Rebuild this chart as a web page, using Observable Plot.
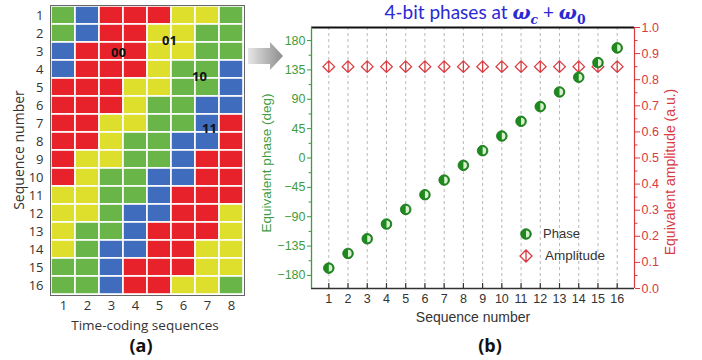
<!DOCTYPE html>
<html>
<head>
<meta charset="utf-8">
<script src="https://cdn.jsdelivr.net/npm/d3@7"></script>
<script src="https://cdn.jsdelivr.net/npm/@observablehq/plot@0.6"></script>
<style>
  body { margin: 0; background: #fff; }
  #fig { position: relative; width: 702px; height: 360px; overflow: hidden; background: #fff; }
  #fig svg { position: absolute; top: 0; }
  .t { position: absolute; white-space: nowrap; line-height: 1; }
</style>
</head>
<body>
<div id="fig"></div>
<script>
// ---- (a) time-coding matrix ----
const columns = [1, 2, 3, 4, 5, 6, 7, 8];
const rows = [1, 2, 3, 4, 5, 6, 7, 8, 9, 10, 11, 12, 13, 14, 15, 16];
const codes = ["00", "01", "10", "11"];
const codeColors = ["#e8222b", "#dede2c", "#6ab548", "#3f6cbd"];
const codeRows = [
  "10 11 00 00 00 01 01 10",
  "10 11 00 00 01 01 10 10",
  "11 00 00 00 01 01 10 10",
  "11 00 00 00 01 10 10 11",
  "00 00 00 01 01 10 10 11",
  "00 00 00 01 10 10 11 11",
  "00 00 01 01 10 10 11 00",
  "00 00 01 10 10 11 11 00",
  "00 01 01 10 10 11 00 00",
  "00 01 10 10 11 11 00 00",
  "01 01 10 10 11 00 00 00",
  "01 01 10 11 11 00 00 01",
  "01 10 10 11 00 00 00 01",
  "01 10 11 11 00 00 01 01",
  "10 10 11 00 00 00 01 01",
  "10 10 11 00 00 01 01 10"
];

// ---- (b) equivalent phase / amplitude ----
const seq = [1, 2, 3, 4, 5, 6, 7, 8, 9, 10, 11, 12, 13, 14, 15, 16];
const phase = [-168.75, -146.25, -123.75, -101.25, -78.75, -56.25, -33.75, -11.25,
               11.25, 33.75, 56.25, 78.75, 101.25, 123.75, 146.25, 168.75];
const amplitude = [0.85, 0.85, 0.85, 0.85, 0.85, 0.85, 0.85, 0.85,
                   0.85, 0.85, 0.85, 0.85, 0.85, 0.85, 0.85, 0.85];
const phaseTicks = [-180, -135, -90, -45, 0, 45, 90, 135, 180];
const phaseMinor = [-157.5, -112.5, -67.5, -22.5, 22.5, 67.5, 112.5, 157.5];
const ampTicks = [0, 0.1, 0.2, 0.3, 0.4, 0.5, 0.6, 0.7, 0.8, 0.9, 1.0];
const ampMinor = [0.05, 0.15, 0.25, 0.35, 0.45, 0.55, 0.65, 0.75, 0.85, 0.95];

const fig = document.getElementById("fig");
const GREEN = "#3f9b3f", DOT = "#1d8a1d", RED = "#d83a3f", INK = "#333";

// cells of the matrix
const cells = [];
codeRows.forEach((line, i) => line.split(" ").forEach((c, j) =>
  cells.push({row: rows[i], col: columns[j], code: c})));

const matrix = Plot.plot({
  width: 250, height: 360,
  marginLeft: 50, marginRight: 6, marginTop: 5, marginBottom: 65,
  style: {fontFamily: "'Open Sans', sans-serif", fontSize: "13px", color: INK, background: "transparent"},
  x: {type: "band", domain: columns, padding: 0},
  y: {type: "band", domain: rows, padding: 0},
  color: {type: "ordinal", domain: codes, range: codeColors},
  marks: [
    Plot.cell(cells, {x: "col", y: "row", fill: "code", stroke: "white", strokeWidth: 1.6}),
    Plot.frame({stroke: "#666", strokeWidth: 1}),
    Plot.axisX({tickSize: 0, tickPadding: 5, label: null}),
    Plot.axisY({tickSize: 0, tickPadding: 7, label: null}),
    Plot.text([{col: 3, row: 3, t: codes[0]}], {x: "col", y: "row", text: "t", dx: 7, dy: 1, fontWeight: "bold", fontSize: 13, fill: "#111"}),
    Plot.text([{col: 5, row: 2, t: codes[1]}], {x: "col", y: "row", text: "t", dx: 10, dy: 7, fontWeight: "bold", fontSize: 13, fill: "#111"}),
    Plot.text([{col: 7, row: 4, t: codes[2]}], {x: "col", y: "row", text: "t", dx: -8, dy: 7, fontWeight: "bold", fontSize: 13, fill: "#111"}),
    Plot.text([{col: 7, row: 7, t: codes[3]}], {x: "col", y: "row", text: "t", dx: 2, dy: 5, fontWeight: "bold", fontSize: 13, fill: "#111"})
  ]
});
matrix.style.left = "0px";
fig.appendChild(matrix);

// custom marker shapes
const halfRight = {draw(ctx, size) {
  const r = Math.sqrt(size / Math.PI);
  ctx.moveTo(0, -r); ctx.arc(0, 0, r, -Math.PI / 2, Math.PI / 2); ctx.closePath();
}};
const phiDiamond = {draw(ctx, size) {
  const r = Math.sqrt(size / Math.PI);
  ctx.moveTo(0, -r); ctx.lineTo(r, 0); ctx.lineTo(0, r); ctx.lineTo(-r, 0); ctx.closePath();
  ctx.moveTo(0, -r); ctx.lineTo(0, r);
}};

const W = 452, H = 360, ML = 61, MR = 68, MT = 27, MB = 72;
const xDomain = [0.1, 16.9];
const ampRows = seq.map((s, i) => ({seq: s, amp: amplitude[i]}));
const phaseRows = seq.map((s, i) => ({seq: s, phase: phase[i]}));
const frameH = H - MT - MB;

// amplitude layer (bottom): grid, frame lines, right axis, diamonds
const ampPlot = Plot.plot({
  width: W, height: H, marginLeft: ML, marginRight: MR, marginTop: MT, marginBottom: MB,
  style: {fontFamily: "'Liberation Sans', Arial, sans-serif", fontSize: "12.5px", color: INK, background: "transparent"},
  x: {domain: xDomain},
  y: {domain: [0, 1]},
  marks: [
    Plot.gridX(seq, {stroke: "#8a8a8a", strokeOpacity: 0.6, strokeDasharray: "3,3"}),
    Plot.ruleY([1], {stroke: "#111", strokeWidth: 2}),
    Plot.ruleY([0], {stroke: "#333", strokeWidth: 1.5}),
    Plot.ruleX(seq, {stroke: "#333", strokeWidth: 1.2, insetTop: frameH - 5}),
    Plot.axisX({ticks: seq, tickSize: 0, tickPadding: 6, tickFormat: d => String(d), label: null}),
    Plot.ruleX([xDomain[1]], {stroke: RED, strokeWidth: 1.2}),
    Plot.axisY({anchor: "right", ticks: ampTicks, tickSize: 5, tickPadding: 2, tickFormat: d3.format(".1f"), color: RED, label: null}),
    Plot.axisY({anchor: "right", ticks: ampMinor, tickSize: 2.5, tickFormat: () => "", color: RED, label: null}),
    Plot.dot(ampRows, {x: "seq", y: "amp", symbol: phiDiamond, r: 5.8, stroke: RED, fill: "white", strokeWidth: 1.3})
  ]
});
ampPlot.style.left = "250px";
fig.appendChild(ampPlot);

// phase layer (top): left axis and half-filled dots
const phasePlot = Plot.plot({
  width: W, height: H, marginLeft: ML, marginRight: MR, marginTop: MT, marginBottom: MB,
  style: {fontFamily: "'Liberation Sans', Arial, sans-serif", fontSize: "12.5px", color: INK, background: "transparent"},
  x: {domain: xDomain, axis: null},
  y: {domain: [-200, 200]},
  marks: [
    Plot.ruleX([xDomain[0]], {stroke: GREEN, strokeWidth: 1.3}),
    Plot.axisY({ticks: phaseTicks, tickSize: 4, tickPadding: 2, color: GREEN, label: null}),
    Plot.axisY({ticks: phaseMinor, tickSize: 2.5, tickFormat: () => "", color: GREEN, label: null}),
    Plot.dot(phaseRows, {x: "seq", y: "phase", r: 5.3, fill: DOT, stroke: "#177017", strokeWidth: 0.8}),
    Plot.dot(phaseRows, {x: "seq", y: "phase", r: 3.6, symbol: halfRight, fill: "#d8f0cf"})
  ]
});
phasePlot.style.left = "250px";
fig.appendChild(phasePlot);

// text around the panels
function label(html, css) {
  const d = document.createElement("div");
  d.className = "t";
  d.innerHTML = html;
  Object.assign(d.style, css);
  fig.appendChild(d);
  return d;
}
const sans = "'Open Sans', sans-serif";
const arial = "'Liberation Sans', Arial, sans-serif";
label("Sequence number", {left: "19px", top: "150px", fontFamily: sans, fontSize: "14px", color: INK, transform: "translate(-50%,-50%) rotate(-90deg)"});
label("Time-coding sequences", {left: "145px", top: "326px", fontFamily: sans, fontSize: "13.5px", color: INK, transform: "translate(-50%,-50%)"});
label("(a)", {left: "141px", top: "345px", fontFamily: sans, fontSize: "18px", fontWeight: "bold", color: "#111", transform: "translate(-50%,-50%)"});
label("Equivalent phase (deg)", {left: "267px", top: "163px", fontFamily: arial, fontSize: "13.5px", color: GREEN, transform: "translate(-50%,-50%) rotate(-90deg)"});
label("Equivalent amplitude (a.u.)", {left: "670px", top: "172px", fontFamily: arial, fontSize: "14px", color: RED, transform: "translate(-50%,-50%) rotate(-90deg)"});
label("Sequence number", {left: "473px", top: "317px", fontFamily: arial, fontSize: "14px", color: INK, transform: "translate(-50%,-50%)"});
label("(b)", {left: "490px", top: "345px", fontFamily: sans, fontSize: "18px", fontWeight: "bold", color: "#111", transform: "translate(-50%,-50%)"});
label("4-bit phases at <span style=\"font-family:'DejaVu Serif',serif;font-weight:bold;font-style:italic\">ω<sub style=\"font-size:0.65em\">c</sub></span> + <span style=\"font-family:'DejaVu Serif',serif;font-weight:bold;font-style:italic\">ω<sub style=\"font-size:0.65em;font-style:normal\">0</sub></span>",
  {left: "485px", top: "14px", fontFamily: "Lato, sans-serif", fontSize: "19px", color: "#2a2ad2", transform: "translate(-50%,-50%)"});

// legend
label("<svg width='14' height='14' style='vertical-align:middle'><circle cx='7' cy='7' r='5.3' fill='" + DOT + "' stroke='#177017' stroke-width='0.8'/><path d='M7,3.4A3.6,3.6 0 0 1 7,10.6Z' fill='#d8f0cf'/></svg>",
  {left: "519px", top: "227px"});
label("Phase", {left: "543px", top: "233px", fontFamily: arial, fontSize: "13px", color: INK, transform: "translateY(-50%)"});
label("<svg width='16' height='16' style='vertical-align:middle'><path d='M8,2L14,8L8,14L2,8Z M8,2L8,14' fill='white' stroke='" + RED + "' stroke-width='1.3'/></svg>",
  {left: "518px", top: "248px"});
label("Amplitude", {left: "545px", top: "256px", fontFamily: arial, fontSize: "13.5px", color: INK, transform: "translateY(-50%)"});

// pointer between the two panels
label("<svg width='40' height='36'><defs><linearGradient id='ag' x1='0' x2='1'><stop offset='0' stop-color='#e6e6e6'/><stop offset='1' stop-color='#8c8c8c'/></linearGradient></defs><path d='M2,7H24V1L37,15L24,29V23H2Z' fill='url(#ag)'/></svg>",
  {left: "246px", top: "41px"});
</script>
</body>
</html>
